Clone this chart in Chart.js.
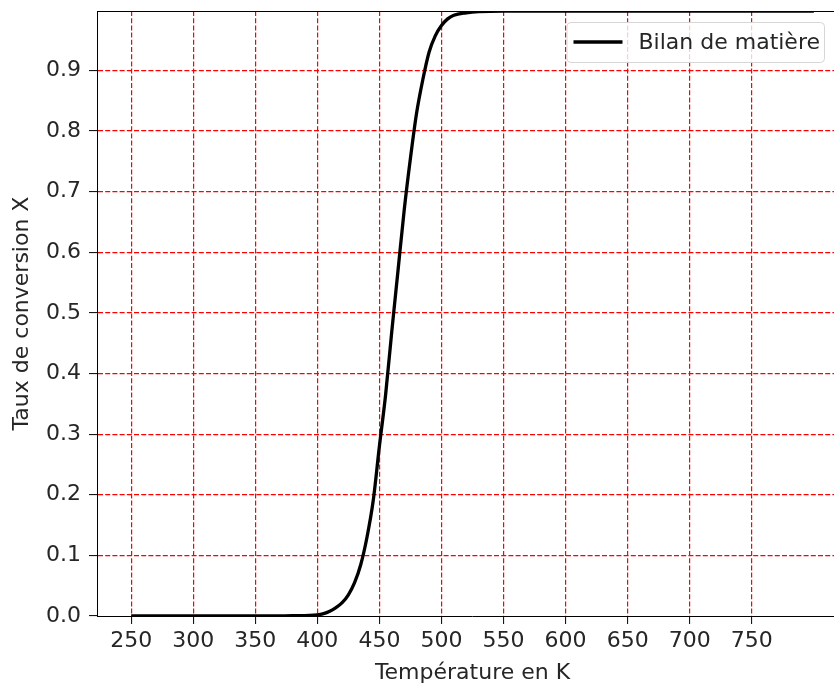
<!DOCTYPE html>
<html>
<head>
    <title>Taux de conversion</title>
    <script src="https://cdn.jsdelivr.net/npm/chart.js"></script>
    <style>
        body {
            margin: 0;
            padding: 0;
            background: #fff;
            overflow: hidden;
        }
        #wrap {
            width: 860px;
            height: 686px;
        }
    </style>
</head>
<body>
    <div id="wrap">
        <canvas id="myChart" width="860" height="686"></canvas>
    </div>

    <script>
        // temperature (K) and conversion
        const temperatures = [250, 300, 350, 380, 400, 405, 410, 415, 420, 425, 430, 435, 440, 445,
            450, 455, 460, 465, 470, 475, 480, 485, 490, 495, 500, 505, 510, 520, 530, 550,
            600, 650, 700, 750, 800];
        const conversion = [0, 0, 0, 0.0005, 0.002, 0.004, 0.008, 0.014, 0.022, 0.035, 0.055, 0.085, 0.13, 0.19,
            0.28, 0.365, 0.47, 0.57, 0.67, 0.755, 0.83, 0.885, 0.93, 0.957, 0.974, 0.985, 0.991, 0.995, 0.997, 0.998,
            0.998, 0.998, 0.998, 0.998, 0.998];
        const xTicks = [250, 300, 350, 400, 450, 500, 550, 600, 650, 700, 750];
        const yTicks = [0, 0.1, 0.2, 0.3, 0.4, 0.5, 0.6, 0.7, 0.8, 0.9];
        const seriesLabel = 'Bilan de matière';

        const FONT = 'DejaVu Sans';
        const FSIZE = 22;
        const TXT = '#262626';

        // top spine + matplotlib style legend box
        const extras = {
            id: 'extras',
            afterDraw(chart) {
                const ctx = chart.ctx;
                const a = chart.chartArea;
                ctx.save();
                ctx.strokeStyle = '#000';
                ctx.lineWidth = 1;
                ctx.beginPath();
                ctx.moveTo(a.left, a.top + 0.5);
                ctx.lineTo(a.right, a.top + 0.5);
                ctx.stroke();

                ctx.font = FSIZE + 'px "' + FONT + '"';
                const tw = ctx.measureText(seriesLabel).width;
                const right = 824, top = 22, h = 40;
                const w = 72 + tw + 4;
                const left = right - w;
                ctx.beginPath();
                ctx.roundRect(left + 0.5, top + 0.5, w, h, 4);
                ctx.fillStyle = 'rgba(255,255,255,0.8)';
                ctx.fill();
                ctx.strokeStyle = '#d6d6d6';
                ctx.stroke();

                ctx.beginPath();
                ctx.strokeStyle = '#000';
                ctx.lineWidth = 3.3;
                ctx.moveTo(left + 7, top + h / 2);
                ctx.lineTo(left + 56, top + h / 2);
                ctx.stroke();

                ctx.fillStyle = TXT;
                ctx.textBaseline = 'middle';
                ctx.fillText(seriesLabel, left + 72, top + h / 2 + 1);
                ctx.restore();
            }
        };

        // no red line over the bottom spine
        function gridStyle() {
            return {
                color: c => (c.tick && c.tick.value === 0 ? 'rgba(0,0,0,0)' : '#ff0000'),
                lineWidth: 1.2,
                tickColor: '#000',
                tickBorderDash: [],
                tickLength: 8,
                tickWidth: 1
            };
        }

        function borderStyle() {
            return { color: '#000', width: 1, dash: [5, 2.2] };
        }

        new Chart(document.getElementById('myChart'), {
            type: 'line',
            data: {
                datasets: [{
                    label: seriesLabel,
                    data: temperatures.map((t, i) => ({ x: t, y: conversion[i] })),
                    borderColor: '#000',
                    borderWidth: 3.3,
                    pointRadius: 0,
                    fill: false,
                    cubicInterpolationMode: 'monotone'
                }]
            },
            options: {
                responsive: false,
                animation: false,
                layout: { padding: { top: 11, right: 12, left: 0, bottom: 0 } },
                plugins: {
                    legend: { display: false },
                    tooltip: { enabled: false }
                },
                scales: {
                    x: {
                        type: 'linear',
                        min: 222.5,
                        max: 827.5,
                        afterBuildTicks: axis => { axis.ticks = xTicks.map(v => ({ value: v })); },
                        afterFit: axis => { axis.height = 70; },
                        grid: gridStyle(),
                        border: borderStyle(),
                        ticks: {
                            color: TXT,
                            font: { family: FONT, size: FSIZE },
                            padding: 4,
                            maxRotation: 0,
                            callback: v => String(v)
                        },
                        title: {
                            display: true,
                            text: 'Température en K',
                            color: TXT,
                            font: { family: FONT, size: FSIZE },
                            padding: { top: 0, bottom: 0 }
                        }
                    },
                    y: {
                        min: 0,
                        max: 0.998,
                        afterBuildTicks: axis => { axis.ticks = yTicks.map(v => ({ value: v })); },
                        afterFit: axis => {
                            axis.width = 97;
                            axis.paddingTop = 0;
                            axis.paddingBottom = 0;
                        },
                        grid: gridStyle(),
                        border: borderStyle(),
                        ticks: {
                            color: TXT,
                            font: { family: FONT, size: FSIZE },
                            padding: 8,
                            callback: v => v.toFixed(1)
                        },
                        title: {
                            display: true,
                            text: 'Taux de conversion X',
                            color: TXT,
                            font: { family: FONT, size: FSIZE },
                            padding: { top: 9, bottom: 0 }
                        }
                    }
                }
            },
            plugins: [extras]
        });
    </script>
</body>
</html>
